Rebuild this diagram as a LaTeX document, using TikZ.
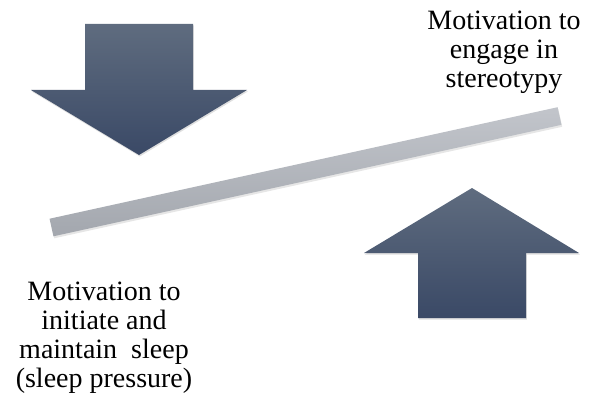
\documentclass[tikz,border=0pt]{standalone}
\usepackage{fontspec}
\setmainfont{Liberation Serif}
\usepackage{tikz}
\usetikzlibrary{shadows,calc}
\definecolor{arrtop}{HTML}{5F6C7F}
\definecolor{arrbot}{HTML}{3A4966}
\definecolor{bartop}{HTML}{C2C5CB}
\definecolor{barbot}{HTML}{A3A7AE}
\tikzset{
  bigarrow/.style={top color=arrtop,bottom color=arrbot,draw=none,
    drop shadow={opacity=0.25,shadow xshift=0.8pt,shadow yshift=-1.5pt}},
  lever/.style={top color=bartop,bottom color=barbot,draw=none,
    drop shadow={opacity=0.2,shadow xshift=0.8pt,shadow yshift=-2pt}},
  label/.style={align=center,font=\fontsize{28}{29}\selectfont,inner sep=0pt},
}
\begin{document}
\begin{tikzpicture}[x=1pt,y=-1pt]
  \useasboundingbox (0,0) rectangle (593,398);
  % downward push (sleep pressure)
  \path[bigarrow] (85,24) -- (193,24) -- (193,90) -- (247,90) -- (139,155)
    -- (31,90) -- (85,90) -- cycle;
  % upward push (stereotypy)
  \path[bigarrow] (472,188) -- (579,253) -- (526,253) -- (526,318)
    -- (418,318) -- (418,253) -- (364,253) -- cycle;
  % the balance beam
  \coordinate (beamL) at (51.5,227.5);
  \coordinate (beamR) at (559.5,116);
  \path[lever] ($(beamL)!9pt!-90:(beamR)$) -- ($(beamL)!9pt!90:(beamR)$)
    -- ($(beamR)!9pt!-90:(beamL)$) -- ($(beamR)!9pt!90:(beamL)$) -- cycle;
  \node[label,anchor=base] (stereo) at (504,88) {Motivation to\\engage in\\stereotypy};
  \node[label,anchor=base] (sleep) at (104,387) {Motivation to\\initiate and\\maintain~ sleep\\(sleep pressure)};
\end{tikzpicture}
\end{document}
